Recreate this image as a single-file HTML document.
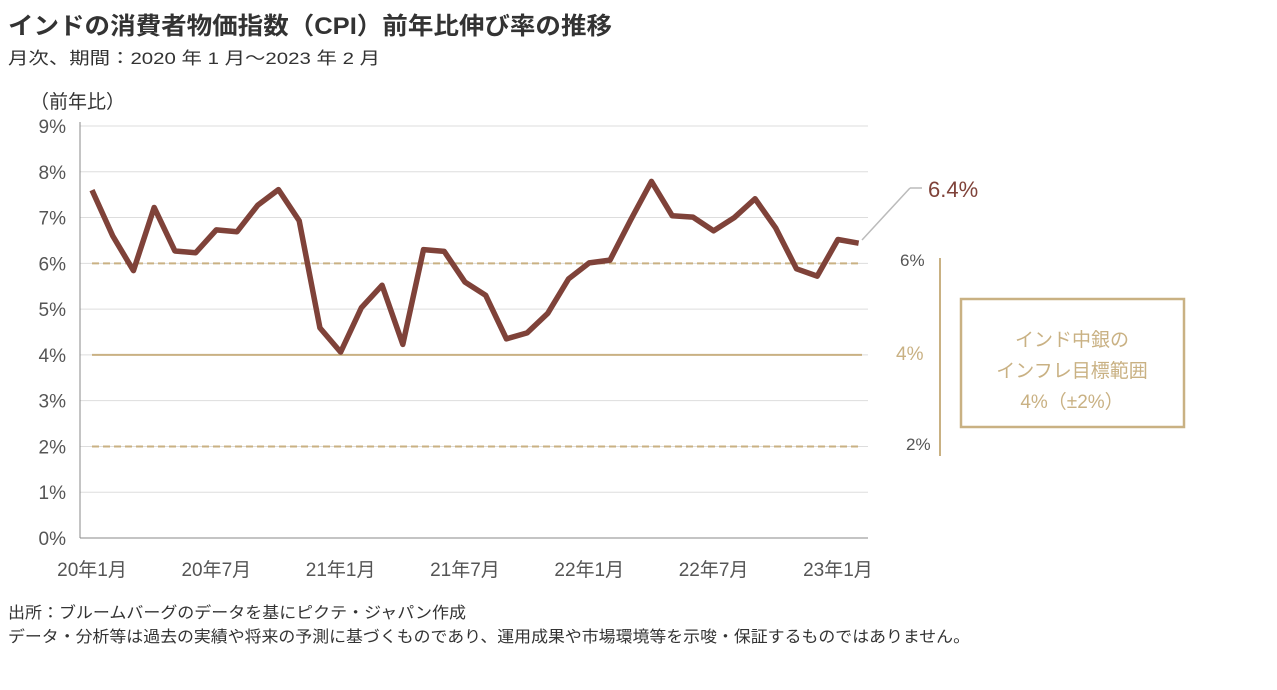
<!DOCTYPE html>
<html><head><meta charset="utf-8"><style>
body{margin:0;background:#fff;width:1277px;height:685px;overflow:hidden;font-family:"Liberation Sans","Noto Sans CJK JP",sans-serif;}
</style></head><body>
<svg width="1277" height="685" xmlns="http://www.w3.org/2000/svg" font-family="'Liberation Sans','Noto Sans CJK JP',sans-serif">
<text x="8" y="34" font-size="24" font-weight="bold" fill="#333" textLength="604" lengthAdjust="spacingAndGlyphs">インドの消費者物価指数（CPI）前年比伸び率の推移</text>
<text x="8" y="64" font-size="17" fill="#333" textLength="372" lengthAdjust="spacingAndGlyphs">月次、期間：2020 年 1 月～2023 年 2 月</text>
<text x="30" y="108" font-size="19" fill="#333">（前年比）</text>
<g id="grid"></g>
<g id="ylab"></g>
<g id="xlab"></g>
<line x1="80" y1="122" x2="80" y2="538" stroke="#888"/>
<line x1="80" y1="538" x2="868" y2="538" stroke="#888"/>
<g id="bands"></g>
<path id="line" fill="none" stroke="#7f4239" stroke-width="5.5" stroke-linejoin="round"/>
<line x1="862" y1="240" x2="910" y2="188" stroke="#bbb" stroke-width="1.5"/>
<line x1="910" y1="188" x2="922" y2="188" stroke="#bbb" stroke-width="1.5"/>
<text x="928" y="197" font-size="22" fill="#7f4239">6.4%</text>
<line x1="940" y1="258" x2="940" y2="456" stroke="#c9b183" stroke-width="2"/>
<text x="900" y="266" font-size="17" fill="#555">6%</text>
<text x="896" y="360" font-size="19" fill="#c9b183">4%</text>
<text x="906" y="450" font-size="17" fill="#555">2%</text>
<rect x="961" y="299" width="223" height="128" fill="none" stroke="#c9b183" stroke-width="2.5"/>
<g font-size="19" fill="#c9b183" text-anchor="middle">
<text x="1072" y="346">インド中銀の</text><text x="1072" y="377">インフレ目標範囲</text><text x="1072" y="408">4%（±2%）</text></g>
<text x="8" y="618" font-size="16" fill="#333" textLength="458" lengthAdjust="spacingAndGlyphs">出所：ブルームバーグのデータを基にピクテ・ジャパン作成</text>
<text x="8" y="642" font-size="16" fill="#333" textLength="962" lengthAdjust="spacingAndGlyphs">データ・分析等は過去の実績や将来の予測に基づくものであり、運用成果や市場環境等を示唆・保証するものではありません。</text>
</svg>
<script>
const values=[7.6,6.6,5.84,7.22,6.27,6.23,6.73,6.69,7.27,7.61,6.93,4.59,4.06,5.03,5.52,4.23,6.3,6.26,5.59,5.3,4.35,4.48,4.91,5.66,6.01,6.07,6.95,7.79,7.04,7.01,6.71,7.0,7.41,6.77,5.88,5.72,6.52,6.44];
const yTicks=[0,1,2,3,4,5,6,7,8,9];
const xTickLabels=["20年1月","20年7月","21年1月","21年7月","22年1月","22年7月","23年1月"];
const xTickIdx=[0,6,12,18,24,30,36];
const bandLevels=[2,4,6];
const NS="http://www.w3.org/2000/svg";
const X=i=>92+i*20.72, Y=v=>538-v*45.78;
function mk(t,a,p){const e=document.createElementNS(NS,t);for(const k in a)e.setAttribute(k,a[k]);document.getElementById(p).appendChild(e);return e;}
yTicks.forEach(v=>{
 if(v>0){const l=mk('line',{x1:80,x2:868,y1:Y(v),y2:Y(v),stroke:'#ddd'},'grid');
 
 }
 const t=mk('text',{x:66,y:Y(v)+7,'font-size':19,fill:'#555','text-anchor':'end'},'ylab');t.textContent=v+'%';
 
 
});
xTickLabels.forEach((s,k)=>{const t=mk('text',{x:X(xTickIdx[k]),y:576,'font-size':19,fill:'#555','text-anchor':'middle'},'xlab');t.textContent=s;
 
 });
bandLevels.forEach(v=>{const a={x1:92,x2:862,y1:Y(v),y2:Y(v),stroke:'#c9b183','stroke-width':2};if(v!==4)a['stroke-dasharray']='7,4';
 const l=mk('line',a,'bands');
 
 });
document.getElementById('line').setAttribute('d',values.map((v,i)=>(i?'L':'M')+X(i)+','+Y(v)).join(''));
</script>
</body></html>
